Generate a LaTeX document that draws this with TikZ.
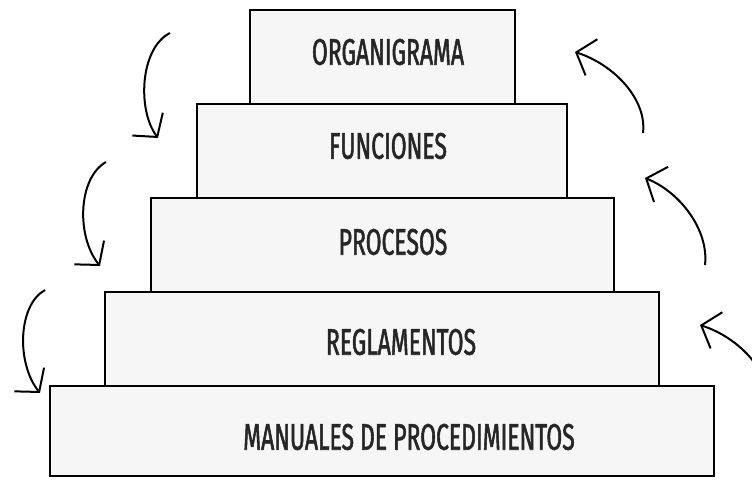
\documentclass[tikz,border=0pt]{standalone}
\usepackage{fontspec}
\setmainfont{Fira Sans}[FakeStretch=0.62, FakeBold=1.4]
\usetikzlibrary{arrows.meta}
\definecolor{boxgray}{HTML}{F6F6F6}
\definecolor{inkgray}{HTML}{262626}

\begin{document}
\begin{tikzpicture}[x=0.5pt,y=-0.5pt]
              \tikzstyle{every node}+=[inner sep=0pt]
              \tikzstyle{tier}=[draw=black, fill=boxgray, line width=1.3pt]
              \tikzstyle{lbl}=[text=inkgray, font=\fontsize{18.5}{20}\selectfont]
              \tikzstyle{turn}=[-{Straight Barb[length=8pt,width=19pt]}, line width=1pt, black]
              \useasboundingbox (0,0) rectangle (752,480);
              % steps of the pyramid
              \node [tier, minimum width=332pt, minimum height=45pt] (manual) at (382,431) {};
              \node [tier, minimum width=277pt, minimum height=47pt] (regla) at (382,339) {};
              \node [tier, minimum width=231.5pt, minimum height=47pt] (proc) at (382.5,245) {};
              \node [tier, minimum width=185pt, minimum height=47pt] (func) at (382,151) {};
              \node [tier, minimum width=132.5pt, minimum height=47pt] (organ) at (382.5,57) {};
              \node [lbl] (organtxt) at (388,52) {ORGANIGRAMA};
              \node [lbl] (functxt) at (388,146) {FUNCIONES};
              \node [lbl] (proctxt) at (393,242) {PROCESOS};
              \node [lbl] (reglatxt) at (401,342) {REGLAMENTOS};
              \node [lbl] (manualtxt) at (409,437) {MANUALES DE PROCEDIMIENTOS};
              % arrows going down, left side
              \coordinate (l1s) at (170,33);
              \coordinate (l1e) at (158,138);
              \coordinate (l2s) at (106,162);
              \coordinate (l2e) at (100,266);
              \coordinate (l3s) at (45,290);
              \coordinate (l3e) at (40,393);
              \draw [turn] (l1s) .. controls (140,48) and (137,110) .. (l1e);
              \draw [turn] (l2s) .. controls (78,178) and (76,236) .. (l2e);
              \draw [turn] (l3s) .. controls (18,305) and (16,363) .. (l3e);
              % arrows going up, right side
              \coordinate (r1s) at (643,133);
              \coordinate (r1e) at (575,52);
              \coordinate (r2s) at (705,265);
              \coordinate (r2e) at (645,178);
              \coordinate (r3s) at (768,406);
              \coordinate (r3e) at (700,325);
              \draw [turn] (r1s) .. controls (647,100) and (615,65) .. (r1e);
              \draw [turn] (r2s) .. controls (709,230) and (680,192) .. (r2e);
              \draw [turn] (r3s) .. controls (772,373) and (740,338) .. (r3e);
\end{tikzpicture}
\end{document}
